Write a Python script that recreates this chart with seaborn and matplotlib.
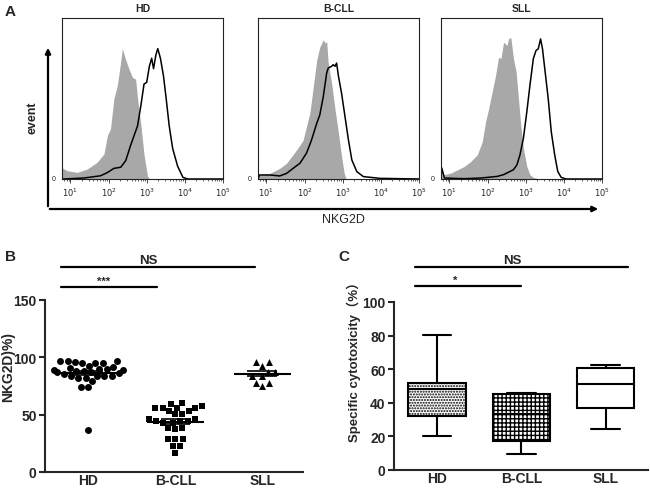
import numpy as np
import pandas as pd
import matplotlib
matplotlib.use("Agg")
import matplotlib.pyplot as plt
import matplotlib.transforms as mtransforms
import seaborn as sns

groups = ["HD", "B-CLL", "SLL"]

# panel A: histogram outlines (log10 NKG2D, % of frame height)
hd_iso_x = [0.78, 0.91, 1.18, 1.44, 1.70, 1.88, 1.97, 2.05, 2.14, 2.23, 2.32, 2.36, 2.45, 2.54, 2.63, 2.71, 2.76, 2.85, 2.93, 3.02, 3.07]
hd_iso_y = [7.0, 5.2, 4.1, 6.2, 10.4, 15.6, 27.0, 31.0, 50.0, 58.0, 73.0, 81.0, 74.0, 68.0, 63.0, 62.0, 50.0, 33.0, 15.0, 2.0, 0.0]
hd_stain_x = [0.78, 0.82, 1.35, 1.79, 1.97, 2.14, 2.32, 2.45, 2.58, 2.67, 2.76, 2.85, 2.93, 3.00, 3.07, 3.13, 3.18, 3.24, 3.29, 3.36, 3.44, 3.51, 3.59, 3.68, 3.81, 3.95, 4.08, 5.00]
hd_stain_y = [0, 0, 0.6, 2, 4, 6.6, 7.3, 11.4, 21, 27, 33, 46, 59, 60, 70, 75, 68.5, 77, 81, 75, 64, 50, 33, 19, 8, 1, 0, 0]

bcll_iso_x = [0.78, 0.82, 1.09, 1.35, 1.53, 1.79, 1.96, 2.05, 2.14, 2.23, 2.32, 2.40, 2.49, 2.54, 2.58, 2.62, 2.71, 2.80, 2.89, 2.97, 3.04, 3.09]
bcll_iso_y = [3, 2.5, 3.5, 6.6, 9.8, 18, 24, 32.6, 41, 57.5, 74, 82, 86.5, 84.4, 85.5, 72, 59.5, 43, 28.4, 14, 3.5, 0]
bcll_stain_x = [0.78, 0.82, 1.09, 1.35, 1.53, 1.70, 1.88, 2.05, 2.18, 2.32, 2.40, 2.49, 2.58, 2.62, 2.71, 2.75, 2.80, 2.84, 2.89, 2.97, 3.06, 3.15, 3.24, 3.37, 3.54, 3.98, 5.00]
bcll_stain_y = [0, 2.5, 2.5, 1.9, 3.5, 6.6, 9.8, 16, 24, 34.6, 39.8, 51, 65.8, 68.9, 70, 71, 70, 72, 63.7, 53.3, 38.8, 24.3, 11.8, 4.6, 1.5, 0.4, 0]

sll_iso_x = [0.78, 0.87, 1.04, 1.22, 1.39, 1.56, 1.73, 1.86, 1.95, 2.03, 2.12, 2.21, 2.29, 2.35, 2.42, 2.51, 2.55, 2.61, 2.68, 2.75, 2.81, 2.87, 2.94, 3.03, 3.11, 3.20, 3.37]
sll_iso_y = [4, 2.7, 3.7, 5.8, 7.8, 10.9, 15, 23, 35.6, 43.8, 54, 64.4, 75.7, 74.7, 85, 83, 87, 88, 74.7, 66.5, 50, 33.5, 19, 7.8, 2.7, 1, 0]
sll_stain_x = [0.78, 0.80, 0.87, 1.39, 1.82, 2.25, 2.42, 2.59, 2.68, 2.77, 2.85, 2.94, 3.03, 3.11, 3.20, 3.27, 3.33, 3.39, 3.44, 3.50, 3.59, 3.67, 3.76, 3.84, 3.93, 4.06, 5.00]
sll_stain_y = [0, 6.8, 0.6, 0.2, 0.6, 1.6, 2.7, 4.7, 5.8, 8.8, 15, 25.3, 41.8, 58, 74.7, 79.8, 80.9, 87, 80.9, 68.5, 50, 29.4, 15, 4.7, 1, 0, 0]

# panel B: NKG2D+ (%) per donor
hd_nkg2d = [97, 97, 97, 95.5, 95, 95, 95, 92.6, 92, 91, 89.7, 89.7, 89, 88.8, 88.3, 88.3, 86.8, 86.8,
            86.2, 85.3, 83.9, 83.9, 83.9, 83.9, 82.4, 82.4, 79.5, 74.3, 74.3, 36.7]
bcll_nkg2d = [60.6, 59.1, 57.7, 56.2, 56.2, 56.2, 56.2, 53.3, 53.3, 50.4, 50.4, 46.0, 46.0, 44.6, 44.6,
              44.6, 43.1, 43.1, 38.7, 38.7, 37.3, 28.5, 28.5, 28.5, 22.7, 22.7, 16.9]
sll_nkg2d = [95.5, 95.5, 92.6, 87.4, 87.4, 83.3, 83.3, 78.0, 78.0, 75.2]

# panel C: min, Q1, median, Q3, max of specific cytotoxicity (%)
hd_cyto = [20.3, 32.3, 48.5, 51.6, 80.5]
bcll_cyto = [9.8, 17.3, 33.3, 45.2, 45.8]
sll_cyto = [24.7, 36.7, 51.2, 60.6, 62.7]

sns.set_style("ticks")
plt.rcParams['font.family'] = ['Liberation Sans', 'DejaVu Sans']
plt.rcParams['hatch.linewidth'] = 1.0

W, H = 650, 489
fig = plt.figure(figsize=(W / 100, H / 100), dpi=100)


def px_rect(left, top, right, bottom):
    return [left / W, 1 - bottom / H, (right - left) / W, (bottom - top) / H]


# ---------------- panel A ----------------
hist_sets = [
    ("HD", hd_iso_x, hd_iso_y, hd_stain_x, hd_stain_y, 62),
    ("B-CLL", bcll_iso_x, bcll_iso_y, bcll_stain_x, bcll_stain_y, 258),
    ("SLL", sll_iso_x, sll_iso_y, sll_stain_x, sll_stain_y, 441),
]
minor = [np.log10(k * 10 ** d) for d in range(0, 5) for k in range(2, 10)]
for name, ix, iy, sx, sy, left in hist_sets:
    ax = fig.add_axes(px_rect(left, 19, left + 161, 180))
    ax.fill_between(ix, iy, color="#a8a8a8", lw=0)
    sns.lineplot(x=sx, y=sy, color="k", lw=1.1, estimator=None, sort=False, ax=ax)
    ax.set_xlim(0.78, 5.0)
    ax.set_ylim(0, 100)
    ax.set_xticks([1, 2, 3, 4, 5])
    ax.set_xticklabels([f"$10^{{{d}}}$" for d in range(1, 6)], fontsize=6)
    ax.set_xticks([m for m in minor if 0.78 < m < 5], minor=True)
    ax.set_yticks([])
    ax.tick_params(axis="x", which="major", length=3, width=0.6, pad=1.5)
    ax.tick_params(axis="x", which="minor", length=1.5, width=0.5)
    for sp in ax.spines.values():
        sp.set_linewidth(0.8)
        sp.set_color("#222222")
    trans = mtransforms.blended_transform_factory(ax.transAxes, ax.transData)
    ax.text(-0.04, 0, "0", transform=trans, ha="right", va="center", fontsize=5)
    ax.set_title(name, fontsize=7.5, fontweight="bold", pad=5)
    ax.set_xlabel("")

# L-shaped arrow axes of panel A
fig.add_artist(matplotlib.patches.FancyArrowPatch((48 / W, 1 - 210 / H), (48 / W, 1 - 46 / H),
                                                  transform=fig.transFigure, arrowstyle="-|>",
                                                  mutation_scale=8, lw=1.6, color="k"))
fig.add_artist(matplotlib.patches.FancyArrowPatch((47 / W, 1 - 210 / H), (601 / W, 1 - 210 / H),
                                                  transform=fig.transFigure, arrowstyle="-|>",
                                                  mutation_scale=8, lw=1.6, color="k"))
fig.text(33 / W, 1 - 118 / H, "event", rotation=90, ha="center", va="center", fontsize=9, fontweight="bold")
fig.text(343 / W, 1 - 220 / H, "NKG2D", ha="center", va="center", fontsize=9)

# ---------------- panel B ----------------
axB = fig.add_axes(px_rect(45, 301, 303, 473))
for g, vals, mk in zip(groups, [hd_nkg2d, bcll_nkg2d, sll_nkg2d], ["o", "s", "^"]):
    df = pd.DataFrame({"group": g, "value": vals})
    sns.swarmplot(data=df, x="group", y="value", order=groups, marker=mk, color="k",
                  size=5, linewidth=0, ax=axB)
    i = groups.index(g)
    m = np.mean(vals)
    s = np.std(vals, ddof=1) / np.sqrt(len(vals))
    axB.hlines(m, i - 0.33, i + 0.33, color="k", lw=1.5, zorder=4)
    axB.hlines([m - s, m + s], i - 0.17, i + 0.17, color="k", lw=1.2, zorder=4)
axB.set_xlim(-0.5, 2.47)
axB.set_ylim(0, 150)
axB.set_yticks([0, 50, 100, 150])
axB.set_xlabel("")
axB.set_ylabel("NKG2D)%)", fontsize=10, fontweight="bold")
axB.yaxis.set_label_coords(-0.115, 0.615)
sns.despine(ax=axB)

axB.plot([-0.32, 1.92], [178.7, 178.7], color="k", lw=1.6, clip_on=False)
axB.text(0.69, 179.5, "NS", ha="center", va="bottom", fontsize=9.5, fontweight="bold")
axB.plot([-0.32, 0.79], [161, 161], color="k", lw=1.6, clip_on=False)
axB.text(0.17, 162, "***", ha="center", va="bottom", fontsize=8, fontweight="bold")

# ---------------- panel C ----------------
axC = fig.add_axes(px_rect(394, 303, 648, 471))
box_df = pd.DataFrame({"group": np.repeat(groups, 5), "value": hd_cyto + bcll_cyto + sll_cyto})
sns.boxplot(data=box_df, x="group", y="value", order=groups, whis=(0, 100), width=0.68,
            color="white", linecolor="k", linewidth=1.5, ax=axC)
for patch, h in zip(axC.patches, ["......", "++++", ""]):
    patch.set_hatch(h)
axC.set_xlim(-0.51, 2.5)
axC.set_ylim(0, 100)
axC.set_yticks([0, 20, 40, 60, 80, 100])
axC.set_xlabel("")
axC.set_ylabel("Specific cytotoxicity（%）", fontsize=9.5, fontweight="bold",
               family=["Liberation Sans", "Noto Sans CJK SC"])
axC.yaxis.set_label_coords(-0.128, 0.665)
sns.despine(ax=axC)

axC.plot([-0.26, 2.26], [121, 121], color="k", lw=1.6, clip_on=False)
axC.text(0.89, 121.5, "NS", ha="center", va="bottom", fontsize=9.5, fontweight="bold")
axC.plot([-0.26, 1.0], [109.3, 109.3], color="k", lw=1.6, clip_on=False)
axC.text(0.21, 110, "*", ha="center", va="bottom", fontsize=8, fontweight="bold")

for ax in (axB, axC):
    for sp in ax.spines.values():
        sp.set_linewidth(1.5)
    ax.tick_params(axis="y", length=4, width=1.5, labelsize=10, pad=2)
    ax.tick_params(axis="x", length=0, labelsize=10, pad=1)
    for lab in ax.get_xticklabels() + ax.get_yticklabels():
        lab.set_fontweight("bold")

fig.text(5 / W, 1 - 12 / H, "A", fontsize=11, fontweight="bold", va="center")
fig.text(5 / W, 1 - 257 / H, "B", fontsize=11, fontweight="bold", va="center")
fig.text(338 / W, 1 - 257 / H, "C", fontsize=11, fontweight="bold", va="center")

fig.savefig("out.png", dpi=100)
